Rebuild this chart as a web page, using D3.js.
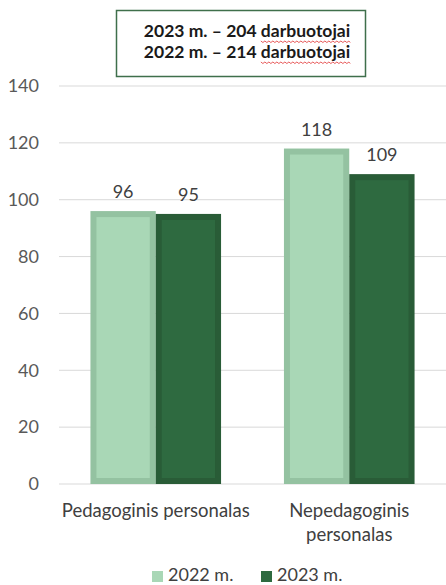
<!DOCTYPE html>
<html>
<head>
<meta charset="utf-8">
<script src="https://cdn.jsdelivr.net/npm/d3@7"></script>
<style>
  body { margin: 0; background: #fff; }
  svg { display: block; font-family: Lato, "Open Sans", sans-serif; }
</style>
</head>
<body>
<svg width="446" height="585"></svg>
<script>
// data
const categories = ["Pedagoginis personalas", "Nepedagoginis personalas"];
const catLines = [["Pedagoginis personalas"], ["Nepedagoginis", "personalas"]];
const seriesNames = ["2022 m.", "2023 m."];
const values2022 = [96, 118];
const values2023 = [95, 109];
const yTicks = [0, 20, 40, 60, 80, 100, 120, 140];
const titleLines = [["2023 m. – 204 ", "darbuotojai"], ["2022 m. – 214 ", "darbuotojai"]];

const fills = ["#a9d7b6", "#2e6a40"];
const strokes = ["#94c2a1", "#295c37"];

const svg = d3.select('svg');
const margin = { top: 86, right: 0, bottom: 101, left: 59 };
const width = +svg.attr('width');
const height = +svg.attr('height');

//scales (page coordinates)
const xScale = d3.scaleBand()
  .domain(categories)
  .range([margin.left, width - margin.right])
  .paddingInner(0.325)
  .paddingOuter(0.1625);
const xSub = d3.scaleBand()
  .domain(seriesNames)
  .range([0, xScale.bandwidth()]);
const yScale = d3.scaleLinear()
  .domain([0, 140])
  .range([height - margin.bottom, margin.top]);

//gridlines
svg.selectAll('line.grid').data(yTicks)
  .enter().append('line')
  .attr('class', 'grid')
  .attr('x1', margin.left).attr('x2', width - margin.right)
  .attr('y1', d => yScale(d)).attr('y2', d => yScale(d))
  .attr('stroke', '#d9d9d9').attr('stroke-width', 1);

//y axis labels, right-aligned at x=39
const yAxis = d3.axisRight(yScale).tickValues(yTicks).tickSize(0).tickPadding(39);
svg.append('g').call(yAxis)
  .attr('font-size', null)
  .attr('font-family', null)
  .call(a => a.select('.domain').remove())
  .selectAll('text')
  .attr('text-anchor', 'end')
  .attr('fill', '#595959')
  .style('font-size', '18px');

//bars
const rows = categories.map((c, i) => ({ cat: c, vals: [values2022[i], values2023[i]] }));
const bars = rows.flatMap(r => r.vals.map((v, j) => ({ cat: r.cat, v, s: seriesNames[j], j })));
const sw = 6;
const bx = d => xScale(d.cat) + xSub(d.s);

svg.selectAll('rect.bar').data(bars)
  .enter().append('rect')
  .attr('class', 'bar')
  .attr('x', d => bx(d) + sw / 2)
  .attr('y', d => yScale(d.v) + sw / 2)
  .attr('width', xSub.bandwidth() - sw)
  .attr('height', d => yScale(0) - yScale(d.v) - sw)
  .attr('fill', d => fills[d.j])
  .attr('stroke', d => strokes[d.j])
  .attr('stroke-width', sw);

svg.selectAll('text.val').data(bars)
  .enter().append('text')
  .attr('class', 'val')
  .attr('x', d => bx(d) + xSub.bandwidth() / 2)
  .attr('y', d => yScale(d.v) - 13)
  .attr('text-anchor', 'middle')
  .attr('fill', '#404040')
  .style('font-size', '18px')
  .text(d => d.v);

//category labels
categories.forEach((c, i) => {
  const cx = xScale(c) + xScale.bandwidth() / 2;
  const t = svg.append('text')
    .attr('x', cx)
    .attr('y', yScale(0) + 33)
    .attr('text-anchor', 'middle')
    .attr('fill', '#404040')
    .style('font-size', '18.5px');
  catLines[i].forEach((line, k) => {
    t.append('tspan')
      .attr('x', cx)
      .attr('dy', k === 0 ? 0 : 24)
      .text(line);
  });
});

//legend
const legX = [152, 261];
seriesNames.forEach((s, i) => {
  svg.append('rect')
    .attr('x', legX[i]).attr('y', 571)
    .attr('width', 11).attr('height', 11)
    .attr('fill', fills[i]);
  svg.append('text')
    .attr('x', legX[i] + 16).attr('y', 581)
    .attr('fill', '#404040')
    .style('font-size', '18px')
    .text(s);
});

//title box
svg.append('rect')
  .attr('x', 116.5).attr('y', 10.5)
  .attr('width', 249).attr('height', 66)
  .attr('fill', '#fff')
  .attr('stroke', '#3f6f4b')
  .attr('stroke-width', 1.5);

titleLines.forEach((parts, i) => {
  const by = 37 + i * 21;
  const t = svg.append('text')
    .attr('x', 247)
    .attr('y', by)
    .attr('text-anchor', 'middle')
    .attr('fill', '#1a1a1a')
    .style('font-size', '17.5px')
    .style('font-weight', 'bold')
    .text(parts.join(''));
  // spellcheck-style wavy underline under the second word
  const n0 = parts[0].length;
  const n1 = parts[1].length;
  const x0 = t.node().getStartPositionOfChar(n0).x;
  const x1 = t.node().getEndPositionOfChar(n0 + n1 - 1).x;
  const yy = by + 4;
  let d = `M${x0},${yy}`;
  for (let x = x0, k = 0; x < x1; x += 2, k++) {
    d += ` L${Math.min(x + 2, x1)},${yy + (k % 2 === 0 ? 1.5 : 0)}`;
  }
  svg.append('path').attr('d', d).attr('fill', 'none')
    .attr('stroke', '#e03030').attr('stroke-width', 0.8);
});
</script>
</body>
</html>
